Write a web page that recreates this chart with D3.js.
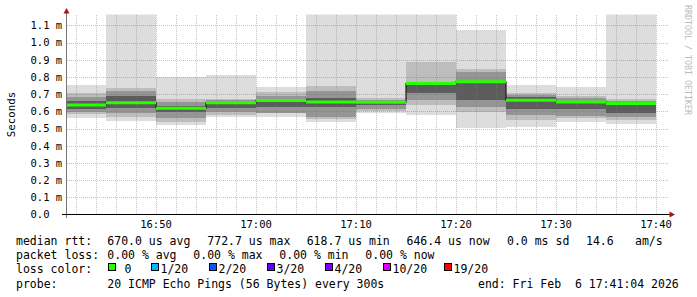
<!DOCTYPE html>
<html>
<head>
<meta charset="utf-8">
<script src="https://cdn.jsdelivr.net/npm/d3@7"></script>
<style>
  html, body { margin: 0; padding: 0; background: #fff; }
  svg { display: block; }
  text { font-family: "DejaVu Sans Mono", monospace; white-space: pre; }
</style>
</head>
<body>
<svg id="chart"></svg>
<script>
// 5 minute buckets (start times), values in ms
var day = "2026-02-06 ";
var bucketStart = ["16:40:00","16:45:00","16:50:00","16:55:00","17:00:00","17:05:00",
                   "17:10:00","17:15:00","17:20:00","17:25:00","17:30:00","17:35:00"];
var bucketEnd = ["16:45:00","16:50:00","16:55:00","17:00:00","17:05:00","17:10:00",
                 "17:15:00","17:20:00","17:25:00","17:30:00","17:35:00","17:40:00"];
var viewStart = "16:41:04";
var viewEnd = "17:41:04";

var median   = [0.637, 0.651, 0.6187, 0.650, 0.664, 0.655, 0.654, 0.762, 0.7727, 0.665, 0.655, 0.6464];
var pingMin  = [0.563, 0.546, 0.521, 0.569, 0.569, 0.540, 0.593, 0.579, 0.505, 0.511, 0.540, 0.527];
var pingMax  = [0.754, 1.250, 0.799, 0.812, 0.744, 1.300, 1.220, 1.280, 1.074, 0.754, 0.740, 1.210];
var band1Lo  = [0.585, 0.569, 0.540, 0.579, 0.589, 0.553, 0.603, 0.637, 0.598, 0.550, 0.560, 0.550];
var band1Hi  = [0.708, 0.736, 0.671, 0.675, 0.711, 0.748, 0.676, 0.889, 0.847, 0.705, 0.690, 0.671];
var band2Lo  = [0.597, 0.589, 0.560, 0.599, 0.588, 0.565, 0.614, 0.666, 0.627, 0.579, 0.573, 0.569];
var band2Hi  = [0.686, 0.716, 0.657, 0.666, 0.691, 0.720, 0.668, 0.766, 0.831, 0.694, 0.676, 0.660];
var band3Lo  = [0.612, 0.618, 0.598, 0.618, 0.627, 0.627, 0.637, 0.705, 0.666, 0.614, 0.612, 0.589];
var band3Hi  = [0.662, 0.690, 0.632, 0.657, 0.672, 0.676, 0.660, 0.764, 0.775, 0.686, 0.660, 0.657];

var yTicks = [0, 0.1, 0.2, 0.3, 0.4, 0.5, 0.6, 0.7, 0.8, 0.9, 1.0, 1.1];

var lossLabels = [" 0", "1/20", "2/20", "3/20", "4/20", "10/20", "19/20"];
var lossColors = ["#26ff00", "#00b8ff", "#0059ff", "#5e00ff", "#7e00ff", "#dd00ff", "#ff0000"];
var lossX = [108, 151, 209, 267, 325, 383, 444];

var width = 697, height = 297;
var svg = d3.select("#chart").attr("width", width).attr("height", height);
var parse = d3.timeParse("%Y-%m-%d %H:%M:%S");

var x = d3.scaleTime()
    .domain([parse(day + viewStart), parse(day + viewEnd)])
    .range([66.67, 666.67]);
var y = d3.scaleLinear().domain([0, 1.164]).range([214.5, 14.5]);

svg.append("defs").append("clipPath").attr("id", "plot")
    .append("rect").attr("x", 66.67).attr("y", 14.5).attr("width", 600).attr("height", 200);

var rows = bucketStart.map(function (s, i) {
    return { t0: parse(day + s), t1: parse(day + bucketEnd[i]), i: i };
});

// smoke
var levels = [
    { lo: pingMin, hi: pingMax, color: "#dddddd" },
    { lo: band1Lo, hi: band1Hi, color: "#bdbdbd" },
    { lo: band2Lo, hi: band2Hi, color: "#959595" },
    { lo: band3Lo, hi: band3Hi, color: "#5c5c5c" }
];
var gSmoke = svg.append("g").attr("clip-path", "url(#plot)").attr("shape-rendering", "crispEdges");
levels.forEach(function (lv) {
    gSmoke.append("g").selectAll("rect").data(rows).enter().append("rect")
        .attr("x", function (d) { return x(d.t0); })
        .attr("width", function (d) { return x(d.t1) - x(d.t0); })
        .attr("y", function (d) { return y(lv.hi[d.i]); })
        .attr("height", function (d) { return y(lv.lo[d.i]) - y(lv.hi[d.i]); })
        .attr("fill", lv.color);
});

// grid
var gGrid = svg.append("g").attr("shape-rendering", "crispEdges");
var minorTicks = x.ticks(d3.timeMinute.every(2));
var majorTicks = x.ticks(d3.timeMinute.every(10));
gGrid.selectAll("line.minor").data(minorTicks.filter(function (t) { return t.getMinutes() % 10 != 0; }))
    .enter().append("line")
    .attr("x1", function (d) { return Math.round(x(d)) + 0.5; })
    .attr("x2", function (d) { return Math.round(x(d)) + 0.5; })
    .attr("y1", 14.5).attr("y2", 214.5)
    .attr("stroke", "rgba(130,130,130,0.45)").attr("stroke-dasharray", "1,1");
gGrid.selectAll("line.vmajor").data(majorTicks)
    .enter().append("line")
    .attr("x1", function (d) { return Math.round(x(d)) + 0.5; })
    .attr("x2", function (d) { return Math.round(x(d)) + 0.5; })
    .attr("y1", 14.5).attr("y2", 214.5)
    .attr("stroke", "rgba(220,60,60,0.4)").attr("stroke-dasharray", "1,1");
gGrid.selectAll("line.hmajor").data(yTicks.slice(1))
    .enter().append("line")
    .attr("x1", 66.5).attr("x2", 668)
    .attr("y1", function (d) { return Math.round(y(d)) + 0.5; })
    .attr("y2", function (d) { return Math.round(y(d)) + 0.5; })
    .attr("stroke", "rgba(220,60,60,0.4)").attr("stroke-dasharray", "1,1");

// median
var gMed = svg.append("g").attr("clip-path", "url(#plot)");
var stepPts = rows.map(function (d) { return [x(d.t0), y(median[d.i])]; });
stepPts.push([x(rows[rows.length - 1].t1), y(median[median.length - 1])]);
gMed.append("path")
    .attr("d", d3.line().curve(d3.curveStepAfter)(stepPts))
    .attr("fill", "none").attr("stroke", "#1a1a1a").attr("stroke-width", 1.2);
gMed.selectAll("line").data(rows).enter().append("line")
    .attr("x1", function (d) { return x(d.t0); })
    .attr("x2", function (d) { return x(d.t1); })
    .attr("y1", function (d) { return y(median[d.i]); })
    .attr("y2", function (d) { return y(median[d.i]); })
    .attr("stroke", lossColors[0]).attr("stroke-width", 3);

// axes
svg.append("line").attr("x1", 66.5).attr("x2", 66.5).attr("y1", 218).attr("y2", 12)
    .attr("stroke", "#777").attr("shape-rendering", "crispEdges");
svg.append("line").attr("x1", 62).attr("x2", 670).attr("y1", 214.5).attr("y2", 214.5)
    .attr("stroke", "#000").attr("shape-rendering", "crispEdges");
svg.append("path").attr("d", "M66.5,8L63.5,13.5L69.5,13.5Z").attr("fill", "#a01818");
svg.append("path").attr("d", "M675,214.5L669.5,211.5L669.5,217.5Z").attr("fill", "#a01818");

svg.append("g").selectAll("text").data(yTicks).enter().append("text")
    .attr("x", 30.5)
    .attr("y", function (d) { return y(d) + 3.8; })
    .attr("font-size", "10.5px").attr("fill", "#000")
    .text(function (d) { return d === 0 ? "0.0" : d3.format(".1f")(d) + " m"; });

svg.append("g").selectAll("text").data(majorTicks).enter().append("text")
    .attr("x", function (d) { return x(d); })
    .attr("y", 228)
    .attr("text-anchor", "middle")
    .attr("font-size", "10.5px").attr("fill", "#000")
    .text(d3.timeFormat("%H:%M"));

svg.append("text")
    .attr("transform", "translate(15,114.5) rotate(-90)")
    .attr("text-anchor", "middle")
    .attr("font-size", "10.8px").attr("fill", "#000")
    .text("Seconds");

svg.append("text")
    .attr("transform", "translate(684.5,5) rotate(90)")
    .attr("font-size", "8.3px").attr("fill", "#bbbbbb")
    .text("RRDTOOL / TOBI OETIKER");

// legend
var fs = "11.5px";
function put(tx, px, py) {
    svg.append("text").attr("x", px).attr("y", py).attr("font-size", fs).attr("fill", "#000").text(tx);
}
put("median rtt:", 16, 245);
put("670.0 us avg", 107.3, 245);
put("772.7 us max", 207.3, 245);
put("618.7 us min", 306.7, 245);
put("646.4 us now", 406.5, 245);
put("0.0 ms sd", 507, 245);
put("14.6", 586, 245);
put("am/s", 635, 245);

put("packet loss:", 16, 259.3);
put("0.00 % avg", 107.3, 259.3);
put("0.00 % max", 193.3, 259.3);
put("0.00 % min", 279.3, 259.3);
put("0.00 % now", 365.3, 259.3);

put("loss color:", 16, 273);
var lg = svg.append("g").selectAll("g").data(lossLabels).enter().append("g");
lg.append("rect")
    .attr("x", function (d, i) { return lossX[i] + 0.5; })
    .attr("y", 263.5).attr("width", 7).attr("height", 7)
    .attr("fill", function (d, i) { return lossColors[i]; })
    .attr("stroke", "#000").attr("shape-rendering", "crispEdges");
lg.append("text")
    .attr("x", function (d, i) { return lossX[i] + 9.5; })
    .attr("y", 273).attr("font-size", fs).attr("fill", "#000")
    .text(function (d) { return d; });

put("probe:", 16, 287.5);
put("20 ICMP Echo Pings (56 Bytes) every 300s", 107.3, 287.5);
put("end: Fri Feb  6 17:41:04 2026", 478, 287.5);
</script>
</body>
</html>
